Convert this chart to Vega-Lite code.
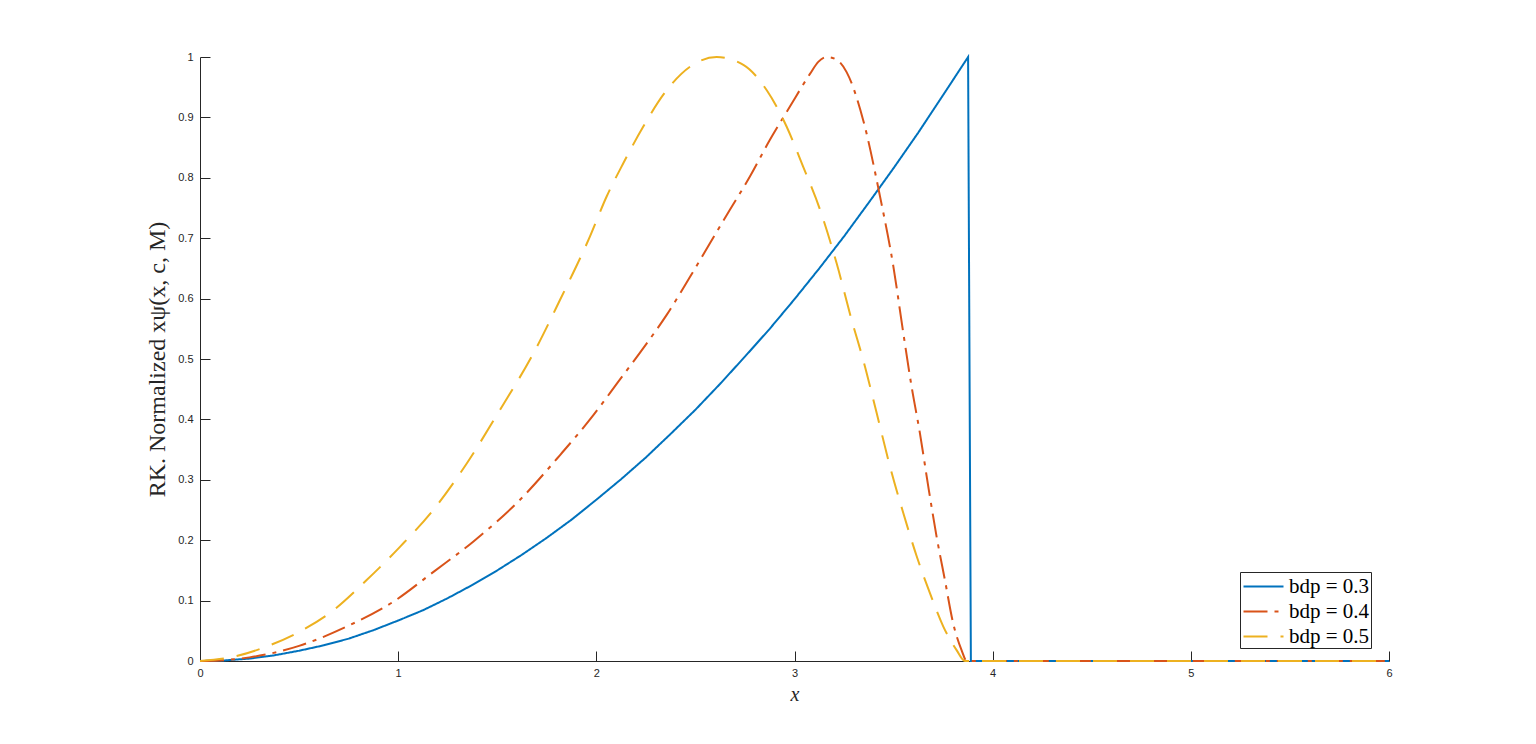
{
  "$schema": "https://vega.github.io/schema/vega-lite/v6.json",
  "autosize": "none",
  "padding": {"left": 200, "top": 57, "right": 147, "bottom": 83},
  "width": 1189,
  "height": 604,
  "background": "white",
  "config": {
    "view": {"stroke": null},
    "axis": {
      "domainColor": "#262626",
      "tickColor": "#262626",
      "labelColor": "#262626",
      "titleColor": "#262626",
      "labelFont": "Liberation Sans",
      "labelFontSize": 11,
      "titleFont": "Liberation Serif",
      "titleFontWeight": "normal",
      "grid": false,
      "tickSize": -10,
      "domainWidth": 1,
      "tickWidth": 1,
      "labelFlush": false
    },
    "legend": {
      "title": null,
      "orient": "none",
      "legendX": 1040,
      "legendY": 515,
      "padding": 1,
      "strokeColor": "#262626",
      "fillColor": "white",
      "symbolType": "M-1.6,0H1.6",
      "symbolSize": 625,
      "symbolStrokeWidth": 2,
      "symbolOffset": 9,
      "labelOffset": 12,
      "labelFont": "Liberation Serif",
      "labelFontSize": 21,
      "labelColor": "#000000",
      "rowPadding": 1
    }
  },
  "data": {
    "values": [
      {"x": 0, "y": 0, "s": "bdp = 0.3"},
      {"x": 0.125, "y": 0.001, "s": "bdp = 0.3"},
      {"x": 0.25, "y": 0.004, "s": "bdp = 0.3"},
      {"x": 0.375, "y": 0.0094, "s": "bdp = 0.3"},
      {"x": 0.5, "y": 0.017, "s": "bdp = 0.3"},
      {"x": 0.625, "y": 0.026, "s": "bdp = 0.3"},
      {"x": 0.75, "y": 0.037, "s": "bdp = 0.3"},
      {"x": 0.875, "y": 0.051, "s": "bdp = 0.3"},
      {"x": 1, "y": 0.067, "s": "bdp = 0.3"},
      {"x": 1.125, "y": 0.084, "s": "bdp = 0.3"},
      {"x": 1.25, "y": 0.104, "s": "bdp = 0.3"},
      {"x": 1.375, "y": 0.126, "s": "bdp = 0.3"},
      {"x": 1.5, "y": 0.15, "s": "bdp = 0.3"},
      {"x": 1.625, "y": 0.176, "s": "bdp = 0.3"},
      {"x": 1.75, "y": 0.204, "s": "bdp = 0.3"},
      {"x": 1.875, "y": 0.234, "s": "bdp = 0.3"},
      {"x": 2, "y": 0.267, "s": "bdp = 0.3"},
      {"x": 2.125, "y": 0.301, "s": "bdp = 0.3"},
      {"x": 2.25, "y": 0.337, "s": "bdp = 0.3"},
      {"x": 2.375, "y": 0.376, "s": "bdp = 0.3"},
      {"x": 2.5, "y": 0.416, "s": "bdp = 0.3"},
      {"x": 2.625, "y": 0.459, "s": "bdp = 0.3"},
      {"x": 2.75, "y": 0.504, "s": "bdp = 0.3"},
      {"x": 2.875, "y": 0.55, "s": "bdp = 0.3"},
      {"x": 3, "y": 0.599, "s": "bdp = 0.3"},
      {"x": 3.125, "y": 0.65, "s": "bdp = 0.3"},
      {"x": 3.25, "y": 0.703, "s": "bdp = 0.3"},
      {"x": 3.375, "y": 0.759, "s": "bdp = 0.3"},
      {"x": 3.5, "y": 0.816, "s": "bdp = 0.3"},
      {"x": 3.625, "y": 0.875, "s": "bdp = 0.3"},
      {"x": 3.75, "y": 0.937, "s": "bdp = 0.3"},
      {"x": 3.876, "y": 1, "s": "bdp = 0.3"},
      {"x": 3.89, "y": 0, "s": "bdp = 0.3"},
      {"x": 6, "y": 0, "s": "bdp = 0.3"},

      {"x": 0, "y": 0, "s": "bdp = 0.4"},
      {"x": 0.1, "y": 0.001, "s": "bdp = 0.4"},
      {"x": 0.25, "y": 0.006, "s": "bdp = 0.4"},
      {"x": 0.5, "y": 0.025, "s": "bdp = 0.4"},
      {"x": 0.74, "y": 0.057, "s": "bdp = 0.4"},
      {"x": 0.975, "y": 0.098, "s": "bdp = 0.4"},
      {"x": 1.18, "y": 0.148, "s": "bdp = 0.4"},
      {"x": 1.38, "y": 0.198, "s": "bdp = 0.4"},
      {"x": 1.615, "y": 0.267, "s": "bdp = 0.4"},
      {"x": 1.817, "y": 0.341, "s": "bdp = 0.4"},
      {"x": 1.985, "y": 0.407, "s": "bdp = 0.4"},
      {"x": 2.11, "y": 0.462, "s": "bdp = 0.4"},
      {"x": 2.237, "y": 0.518, "s": "bdp = 0.4"},
      {"x": 2.355, "y": 0.573, "s": "bdp = 0.4"},
      {"x": 2.473, "y": 0.636, "s": "bdp = 0.4"},
      {"x": 2.574, "y": 0.692, "s": "bdp = 0.4"},
      {"x": 2.674, "y": 0.747, "s": "bdp = 0.4"},
      {"x": 2.775, "y": 0.802, "s": "bdp = 0.4"},
      {"x": 2.876, "y": 0.863, "s": "bdp = 0.4"},
      {"x": 2.977, "y": 0.918, "s": "bdp = 0.4"},
      {"x": 3.078, "y": 0.972, "s": "bdp = 0.4"},
      {"x": 3.12, "y": 0.992, "s": "bdp = 0.4"},
      {"x": 3.162, "y": 1.0, "s": "bdp = 0.4"},
      {"x": 3.21, "y": 0.996, "s": "bdp = 0.4"},
      {"x": 3.263, "y": 0.975, "s": "bdp = 0.4"},
      {"x": 3.347, "y": 0.895, "s": "bdp = 0.4"},
      {"x": 3.431, "y": 0.77, "s": "bdp = 0.4"},
      {"x": 3.499, "y": 0.653, "s": "bdp = 0.4"},
      {"x": 3.549, "y": 0.543, "s": "bdp = 0.4"},
      {"x": 3.591, "y": 0.454, "s": "bdp = 0.4"},
      {"x": 3.633, "y": 0.377, "s": "bdp = 0.4"},
      {"x": 3.675, "y": 0.289, "s": "bdp = 0.4"},
      {"x": 3.717, "y": 0.206, "s": "bdp = 0.4"},
      {"x": 3.759, "y": 0.134, "s": "bdp = 0.4"},
      {"x": 3.801, "y": 0.062, "s": "bdp = 0.4"},
      {"x": 3.843, "y": 0.018, "s": "bdp = 0.4"},
      {"x": 3.869, "y": 0, "s": "bdp = 0.4"},
      {"x": 6, "y": 0, "s": "bdp = 0.4"},

      {"x": 0, "y": 0, "s": "bdp = 0.5"},
      {"x": 0.168, "y": 0.007, "s": "bdp = 0.5"},
      {"x": 0.336, "y": 0.024, "s": "bdp = 0.5"},
      {"x": 0.505, "y": 0.049, "s": "bdp = 0.5"},
      {"x": 0.673, "y": 0.084, "s": "bdp = 0.5"},
      {"x": 0.841, "y": 0.134, "s": "bdp = 0.5"},
      {"x": 1.009, "y": 0.189, "s": "bdp = 0.5"},
      {"x": 1.177, "y": 0.25, "s": "bdp = 0.5"},
      {"x": 1.346, "y": 0.327, "s": "bdp = 0.5"},
      {"x": 1.514, "y": 0.416, "s": "bdp = 0.5"},
      {"x": 1.682, "y": 0.509, "s": "bdp = 0.5"},
      {"x": 1.817, "y": 0.598, "s": "bdp = 0.5"},
      {"x": 1.968, "y": 0.703, "s": "bdp = 0.5"},
      {"x": 2.052, "y": 0.769, "s": "bdp = 0.5"},
      {"x": 2.136, "y": 0.824, "s": "bdp = 0.5"},
      {"x": 2.237, "y": 0.885, "s": "bdp = 0.5"},
      {"x": 2.355, "y": 0.945, "s": "bdp = 0.5"},
      {"x": 2.473, "y": 0.984, "s": "bdp = 0.5"},
      {"x": 2.607, "y": 1.0, "s": "bdp = 0.5"},
      {"x": 2.742, "y": 0.987, "s": "bdp = 0.5"},
      {"x": 2.86, "y": 0.945, "s": "bdp = 0.5"},
      {"x": 2.96, "y": 0.885, "s": "bdp = 0.5"},
      {"x": 3.044, "y": 0.818, "s": "bdp = 0.5"},
      {"x": 3.129, "y": 0.747, "s": "bdp = 0.5"},
      {"x": 3.213, "y": 0.658, "s": "bdp = 0.5"},
      {"x": 3.288, "y": 0.565, "s": "bdp = 0.5"},
      {"x": 3.347, "y": 0.498, "s": "bdp = 0.5"},
      {"x": 3.415, "y": 0.41, "s": "bdp = 0.5"},
      {"x": 3.482, "y": 0.322, "s": "bdp = 0.5"},
      {"x": 3.549, "y": 0.245, "s": "bdp = 0.5"},
      {"x": 3.617, "y": 0.173, "s": "bdp = 0.5"},
      {"x": 3.684, "y": 0.112, "s": "bdp = 0.5"},
      {"x": 3.751, "y": 0.057, "s": "bdp = 0.5"},
      {"x": 3.818, "y": 0.018, "s": "bdp = 0.5"},
      {"x": 3.86, "y": 0, "s": "bdp = 0.5"},
      {"x": 6, "y": 0, "s": "bdp = 0.5"}
    ]
  },
  "encoding": {
    "x": {
      "field": "x",
      "type": "quantitative",
      "scale": {"domain": [0, 6], "nice": false},
      "axis": {
        "values": [0, 1, 2, 3, 4, 5, 6],
        "format": "~g",
        "labelPadding": 16,
        "title": "x",
        "titleFontStyle": "italic",
        "titleFontSize": 20,
        "titlePadding": 6
      }
    },
    "y": {
      "field": "y",
      "type": "quantitative",
      "scale": {"domain": [0, 1], "nice": false},
      "axis": {
        "values": [0, 0.1, 0.2, 0.3, 0.4, 0.5, 0.6, 0.7, 0.8, 0.9, 1],
        "format": "~g",
        "labelPadding": 17,
        "title": "RK. Normalized xψ(x, c, M)",
        "titleFontSize": 24,
        "titlePadding": 8
      }
    },
    "color": {
      "field": "s",
      "type": "nominal",
      "scale": {"domain": ["bdp = 0.3", "bdp = 0.4", "bdp = 0.5"], "range": ["#0072BD", "#D95319", "#EDB120"]}
    },
    "strokeDash": {
      "field": "s",
      "type": "nominal",
      "scale": {"domain": ["bdp = 0.3", "bdp = 0.4", "bdp = 0.5"], "range": [[1, 0], [24, 7, 4, 7], [24, 13]]}
    }
  },
  "layer": [
    {
      "transform": [{"filter": "datum.s === 'bdp = 0.3'"}],
      "mark": {"type": "line", "strokeWidth": 2, "interpolate": "linear", "clip": false}
    },
    {
      "transform": [{"filter": "datum.s !== 'bdp = 0.3'"}],
      "mark": {"type": "line", "strokeWidth": 2, "interpolate": "monotone", "clip": false}
    }
  ]
}
